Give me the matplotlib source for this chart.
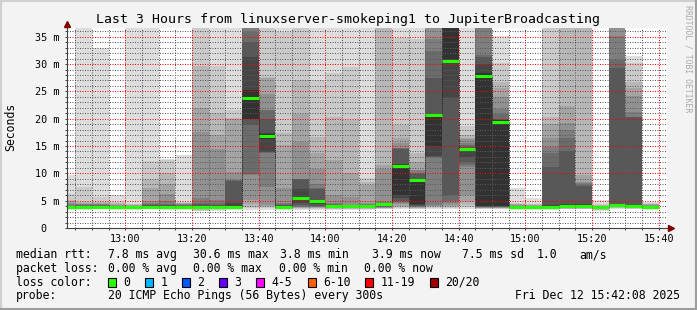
import matplotlib
matplotlib.use("Agg")
import matplotlib.pyplot as plt
from matplotlib.patches import Rectangle
from matplotlib.lines import Line2D
from matplotlib.transforms import Affine2D

# 5 minute slots (start time), median rtt and the 20 sorted ping times (ms)
slots = ["12:40", "12:45", "12:50", "12:55", "13:00", "13:05", "13:10", "13:15",
         "13:20", "13:25", "13:30", "13:35", "13:40", "13:45", "13:50", "13:55",
         "14:00", "14:05", "14:10", "14:15", "14:20", "14:25", "14:30", "14:35",
         "14:40", "14:45", "14:50", "14:55", "15:00", "15:05", "15:10", "15:15",
         "15:20", "15:25", "15:30", "15:35"]

medians = [3.8, 3.8, 3.9, 3.8, 3.85, 3.9, 3.85, 3.8,
           3.9, 3.8, 3.8, 23.8, 16.8, 3.9, 5.5, 4.9,
           4.1, 4.0, 4.1, 4.3, 11.3, 8.8, 20.6, 30.6,
           14.4, 27.9, 19.4, 3.8, 3.8, 3.8, 4.0, 3.95,
           3.8, 4.25, 4.1, 3.9]

pings = [
    [3.3, 3.4, 3.5, 3.5, 3.6, 3.6, 3.6, 3.7, 3.7, 3.7, 3.8, 3.9, 4.0, 4.1, 4.3, 4.6, 4.9, 5.1, 6.3, 9.7],
    [3.3, 3.4, 3.5, 3.5, 3.6, 3.6, 3.7, 3.7, 3.7, 3.8, 3.9, 4.0, 4.1, 4.2, 4.3, 4.4, 4.6, 4.8, 7.5, 45],
    [3.4, 3.5, 3.5, 3.6, 3.6, 3.7, 3.7, 3.8, 3.8, 3.9, 3.9, 4.0, 4.1, 4.2, 4.3, 4.4, 4.6, 4.8, 5.7, 33.0],
    [3.3, 3.4, 3.5, 3.5, 3.6, 3.6, 3.7, 3.7, 3.7, 3.8, 3.8, 3.9, 4.0, 4.0, 4.1, 4.2, 4.3, 4.5, 4.7, 6.1],
    [3.3, 3.4, 3.5, 3.5, 3.6, 3.6, 3.7, 3.7, 3.7, 3.8, 3.8, 3.9, 3.9, 4.0, 4.0, 4.1, 4.2, 4.3, 4.4, 45],
    [3.4, 3.5, 3.6, 3.6, 3.7, 3.7, 3.8, 3.8, 3.9, 3.9, 4.0, 4.1, 4.2, 4.3, 4.5, 5.0, 7.3, 9.0, 12.2, 45],
    [3.3, 3.4, 3.5, 3.6, 3.6, 3.7, 3.7, 3.8, 3.8, 3.9, 3.9, 4.0, 4.2, 4.3, 5.0, 6.3, 8.0, 10.0, 12.5, 12.7],
    [3.3, 3.4, 3.5, 3.5, 3.6, 3.6, 3.7, 3.7, 3.8, 3.8, 3.9, 4.0, 4.1, 4.2, 4.3, 4.4, 4.5, 4.6, 4.7, 13.3],
    [3.1, 3.2, 3.3, 3.4, 3.5, 3.6, 3.7, 3.7, 3.8, 3.8, 3.9, 4.1, 4.3, 4.6, 5.4, 17.6, 22.0, 29.6, 45, 45],
    [3.2, 3.3, 3.4, 3.5, 3.5, 3.6, 3.6, 3.7, 3.7, 3.7, 3.85, 4.0, 4.2, 4.5, 5.1, 14.5, 17.0, 21.0, 29.6, 45],
    [3.3, 3.4, 3.5, 3.5, 3.5, 3.6, 3.6, 3.6, 3.7, 3.7, 4.0, 4.5, 8.6, 8.7, 8.8, 10.3, 20.0, 20.1, 21.6, 45],
    [3.3, 3.6, 3.85, 4.4, 5.1, 9.7, 9.8, 18.8, 19.9, 20.0, 25.2, 31.3, 34.1, 35.9, 36.9, 45, 45, 45, 45, 45],
    [3.3, 3.6, 3.8, 3.95, 4.2, 7.5, 13.8, 13.85, 13.9, 16.3, 17.2, 17.3, 20.0, 21.55, 21.6, 24.5, 27.5, 27.6, 45, 45],
    [3.3, 3.4, 3.5, 3.5, 3.6, 3.6, 3.7, 3.7, 3.8, 3.8, 4.0, 4.1, 4.2, 4.3, 4.5, 7.3, 15.1, 17.3, 35.9, 45],
    [3.3, 3.5, 3.6, 3.7, 3.8, 3.9, 4.0, 4.2, 4.5, 5.3, 5.7, 7.2, 8.9, 8.95, 9.0, 15.8, 20.9, 27.1, 45, 45],
    [3.3, 3.5, 3.6, 3.7, 3.8, 3.9, 4.0, 4.1, 4.3, 4.6, 5.0, 5.1, 7.2, 7.3, 8.1, 10.8, 13.8, 16.7, 27.1, 45],
    [3.3, 3.4, 3.5, 3.6, 3.6, 3.7, 3.7, 3.8, 3.8, 3.9, 4.0, 4.1, 4.2, 4.4, 4.6, 6.0, 12.4, 20.3, 28.3, 45],
    [3.3, 3.4, 3.5, 3.6, 3.6, 3.7, 3.7, 3.8, 3.8, 3.9, 3.95, 4.0, 4.05, 4.1, 4.2, 5.7, 10.0, 19.8, 29.4, 45],
    [3.3, 3.4, 3.5, 3.6, 3.6, 3.7, 3.7, 3.8, 3.8, 3.9, 3.95, 4.0, 4.1, 4.2, 4.3, 4.6, 7.9, 8.5, 9.1, 45],
    [3.4, 3.5, 3.6, 3.7, 3.7, 3.8, 3.9, 4.0, 4.1, 4.2, 4.4, 4.45, 4.5, 4.6, 4.8, 10.8, 11.5, 45, 45, 45],
    [3.5, 3.7, 3.9, 4.1, 4.3, 4.5, 4.7, 5.0, 5.5, 6.0, 11.6, 11.8, 14.5, 14.55, 14.6, 15.5, 16.4, 18.9, 34.8, 45],
    [3.4, 3.5, 3.6, 3.7, 3.8, 3.9, 4.0, 4.1, 4.2, 4.3, 8.95, 9.0, 9.95, 10.0, 10.55, 10.6, 12.0, 13.7, 34.5, 45],
    [3.5, 3.7, 3.9, 4.0, 4.1, 4.2, 13.0, 13.05, 13.1, 15.0, 20.7, 20.8, 27.4, 32.3, 34.5, 45, 45, 45, 45, 45],
    [3.4, 3.6, 3.8, 4.0, 4.2, 4.5, 5.0, 6.0, 23.8, 30.4, 45, 45, 45, 45, 45, 45, 45, 45, 45, 45],
    [3.5, 3.8, 4.2, 4.7, 6.0, 11.2, 11.6, 12.1, 13.0, 14.0, 14.6, 14.7, 14.9, 15.2, 15.6, 16.2, 16.5, 17.0, 18.7, 45],
    [3.4, 3.5, 3.6, 3.7, 3.75, 3.8, 3.85, 3.9, 3.95, 4.0, 28.3, 30.0, 31.2, 31.6, 38, 45, 45, 45, 45, 45],
    [3.4, 3.5, 3.6, 3.7, 3.75, 3.8, 3.85, 3.9, 3.95, 4.0, 19.7, 19.8, 20.0, 20.8, 21.7, 24.0, 25.6, 26.8, 30.1, 35.2],
    [3.3, 3.4, 3.5, 3.5, 3.6, 3.6, 3.7, 3.7, 3.7, 3.8, 3.8, 3.9, 3.9, 4.0, 4.1, 4.2, 4.3, 4.4, 4.6, 7.3],
    [3.3, 3.4, 3.4, 3.5, 3.5, 3.6, 3.6, 3.6, 3.7, 3.7, 3.8, 3.8, 3.9, 3.9, 4.0, 4.1, 4.2, 4.3, 4.4, 5.5],
    [3.3, 3.4, 3.5, 3.5, 3.6, 3.6, 3.7, 3.7, 3.7, 3.8, 4.1, 4.2, 11.2, 13.7, 14.9, 16.4, 19.0, 20.4, 45, 45],
    [3.4, 3.5, 3.5, 3.6, 3.6, 3.7, 3.7, 3.8, 3.8, 3.9, 4.1, 4.3, 14.0, 16.4, 18.0, 19.2, 22.4, 45, 45, 45],
    [3.4, 3.5, 3.5, 3.6, 3.6, 3.7, 3.7, 3.8, 3.8, 3.9, 4.1, 4.3, 7.6, 7.8, 8.2, 8.5, 9.7, 45, 45, 45],
    [3.2, 3.3, 3.3, 3.4, 3.4, 3.5, 3.5, 3.5, 3.6, 3.6, 3.7, 3.7, 3.8, 3.8, 3.9, 3.9, 4.0, 4.2, 4.4, 5.1],
    [3.4, 3.6, 3.7, 3.8, 3.9, 4.0, 4.05, 4.1, 4.15, 4.2, 4.3, 4.35, 29.3, 30.8, 35.1, 45, 45, 45, 45, 45],
    [3.4, 3.5, 3.6, 3.7, 3.8, 3.85, 3.9, 3.95, 4.0, 4.05, 4.15, 4.2, 20.3, 20.4, 21.3, 24.1, 25.6, 26.8, 30.2, 31.4],
    [3.3, 3.4, 3.5, 3.5, 3.6, 3.6, 3.7, 3.7, 3.8, 3.8, 3.9, 3.9, 4.0, 4.0, 4.1, 4.2, 4.3, 4.4, 4.6, 4.8],
]

time_ticks = ["13:00", "13:20", "13:40", "14:00", "14:20", "14:40", "15:00", "15:20", "15:40"]
y_ticks = [0, 5, 10, 15, 20, 25, 30, 35]
y_tick_labels = ["0  ", "5 m", "10 m", "15 m", "20 m", "25 m", "30 m", "35 m"]

rtt_names = ["avg", "max", "min", "now", "sd"]
rtt_stats = [7.8, 30.6, 3.8, 3.9, 7.5]
am_per_s = 1.0
loss_names = ["avg", "max", "min", "now"]
loss_stats = [0.00, 0.00, 0.00, 0.00]
loss_labels = ["0", "1", "2", "3", "4-5", "6-10", "11-19", "20/20"]
loss_colors = ["#26ff00", "#00b8ff", "#0059ff", "#6a00ff", "#ff00ff", "#ff5e00", "#ff0000", "#a10000"]

title = "Last 3 Hours from linuxserver-smokeping1 to JupiterBroadcasting"
probe = "20 ICMP Echo Pings (56 Bytes) every 300s"
stamp = "Fri Dec 12 15:42:08 2025"

MONO = "DejaVu Sans Mono"
W, H = 697, 310


def minutes(hhmm):
    h, m = hhmm.split(":")
    return int(h) * 60 + int(m) - 13 * 60


fig = plt.figure(figsize=(W / 100, H / 100), dpi=100, facecolor="#f3f3f3")
# pixel coordinates, origin top left
pix = Affine2D().scale(1 / W, -1 / H).translate(0, 1) + fig.transFigure

ax = fig.add_axes([66.7 / W, 1 - 228 / H, 600 / W, 200.3 / H])
ax.set_facecolor("white")
ax.set_xlim(-17.6, 162.4)
ax.set_ylim(0, 36.65)

starts = [minutes(s) for s in slots]

# smoke: nested ranges of the sorted pings, darker towards the middle
for lvl in range(1, 11):
    g = int(190 / 10 * (10 - lvl)) + 50
    col = "#%02x%02x%02x" % (g, g, g)
    lows = [p[lvl - 1] for p in pings]
    highs = [p[20 - lvl] for p in pings]
    ax.bar(starts, [hi - lo for lo, hi in zip(lows, highs)], bottom=lows, width=5,
           align="edge", color=col, linewidth=0, antialiased=False, zorder=1)

# median: dark step connectors and green boxes
ax.vlines(starts[1:], medians[:-1], medians[1:], colors="#202020", lw=0.7,
          linestyles=(0, (1, 1)), zorder=3)
ax.hlines(medians, starts, [s + 5 for s in starts], colors=loss_colors[0], lw=2.2,
          capstyle="butt", zorder=4)

# grid on top of the smoke, dotted like rrdtool
ax.set_axisbelow(False)
ax.set_xticks([minutes(t) for t in time_ticks])
ax.set_xticklabels(time_ticks)
ax.set_xticks(range(-15, 163, 5), minor=True)
ax.set_yticks(y_ticks)
ax.set_yticklabels(y_tick_labels)
ax.set_yticks(range(0, 37), minor=True)
ax.grid(which="major", color=(1, 0, 0, 0.28), linestyle=(0, (1, 1.5)), lw=0.72)
ax.grid(which="minor", color=(0.35, 0.35, 0.35, 0.24), linestyle=(0, (1, 1.5)), lw=0.72)
ax.tick_params(which="both", direction="out", color="#404040", width=0.7,
               labelsize=7.3, labelfontfamily=MONO)
ax.tick_params(which="major", length=1.6)
ax.tick_params(which="minor", length=1.2)
ax.tick_params(axis="y", pad=3.4)
ax.tick_params(axis="x", pad=2.4)
for sp in ax.spines.values():
    sp.set_visible(False)

# axes with arrows
fig.add_artist(Line2D([66.7, 66.7], [228, 25], transform=pix, color="#404040", lw=0.8))
fig.add_artist(Line2D([66.7, 669], [228, 228], transform=pix, color="#404040", lw=0.8))
fig.add_artist(Line2D([66.7], [23.5], transform=pix, marker="^", ms=4.5, color="#7f0000", lw=0))
fig.add_artist(Line2D([670.5], [228], transform=pix, marker=">", ms=4.5, color="#7f0000", lw=0))

# texts
fig.text(347.5, 19, title, transform=pix, ha="center", va="center", fontsize=9.5, family=MONO)
fig.text(11, 127, "Seconds", transform=pix, ha="center", va="center", rotation=90,
         fontsize=8.3, family=MONO)
fig.text(688, 59, "RRDTOOL / TOBI OETIKER", transform=pix, ha="center", va="center",
         rotation=270, fontsize=5.9, family=MONO, color="#aaaaaa")

LF = dict(transform=pix, fontsize=8.3, family=MONO, va="baseline")
rows = [258.3, 272.0, 285.7, 299.3]
fig.text(16, rows[0], "median rtt:", **LF)
for x, v, n in zip([107.6, 193.3, 280.0, 371.6, 462.2], rtt_stats, rtt_names):
    fig.text(x, rows[0], "%.1f ms %s" % (v, n), **LF)
fig.text(537, rows[0], "%.1f" % am_per_s, **LF)
fig.text(579, rows[0], "am/s", **LF)

fig.text(16, rows[1], "packet loss:", **LF)
for x, v, n in zip([107.6, 193.3, 279.0, 364.4], loss_stats, loss_names):
    fig.text(x, rows[1], "%.2f %% %s" % (v, n), **LF)

fig.text(16, rows[2], "loss color:", **LF)
box_x = [108.4, 145.0, 182.0, 219.0, 256.4, 307.6, 365.0, 430.0]
for x, lab, c in zip(box_x, loss_labels, loss_colors):
    fig.add_artist(Rectangle((x, 277.5), 8, 9, transform=pix, facecolor=c,
                             edgecolor="black", lw=0.8))
    fig.text(x + 15.3, rows[2], lab, **LF)

fig.text(16, rows[3], "probe:", **LF)
fig.text(107.6, rows[3], probe, **LF)
fig.text(680, rows[3], stamp, ha="right", **LF)

# frame round the image
fig.add_artist(Line2D([0, W], [1, 1], transform=pix, color="#cfcfcf", lw=1.5))
fig.add_artist(Line2D([1, 1], [0, H], transform=pix, color="#cfcfcf", lw=1.5))
fig.add_artist(Line2D([0, W], [H - 1, H - 1], transform=pix, color="#9e9e9e", lw=1.5))
fig.add_artist(Line2D([W - 1, W - 1], [0, H], transform=pix, color="#9e9e9e", lw=1.5))

fig.savefig("out.png", dpi=100, facecolor=fig.get_facecolor())
